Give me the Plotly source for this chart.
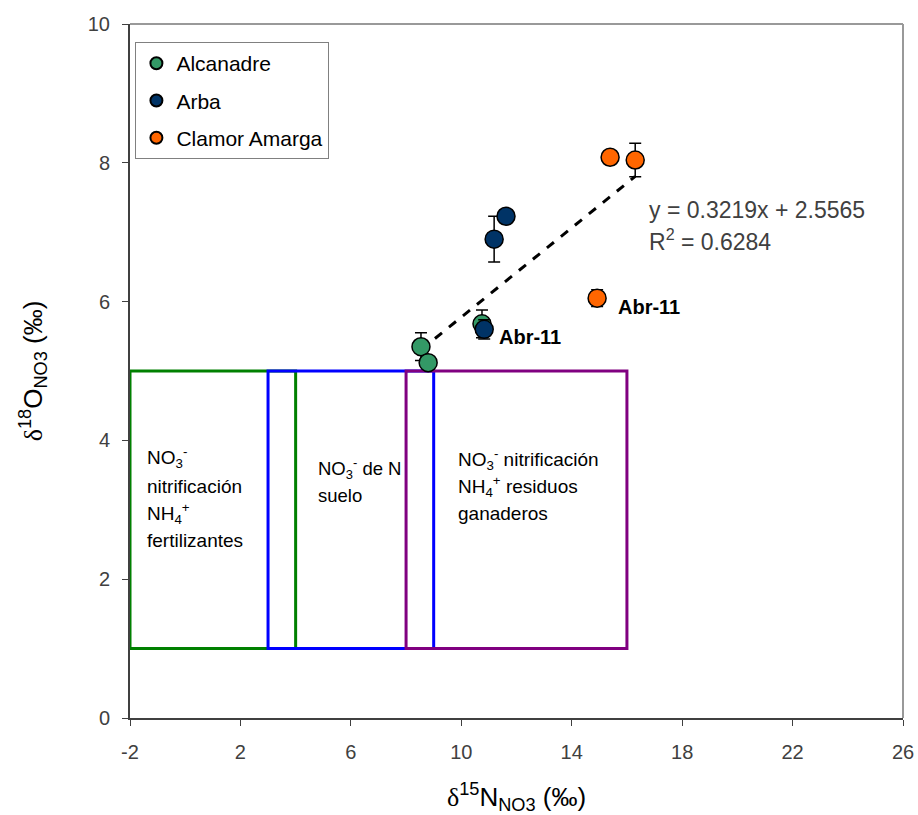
import plotly.graph_objects as go

# ---- data ----
alc_x = [8.54, 8.80, 10.75]
alc_y = [5.35, 5.12, 5.68]
alc_err = [0.20, 0.0, 0.20]

arba_x = [10.83, 11.19, 11.62]
arba_y = [5.60, 6.90, 7.23]
arba_err = [0.14, 0.33, 0.05]

clam_x = [14.92, 15.39, 16.30]
clam_y = [6.05, 8.08, 8.04]
clam_err = [0.12, 0.0, 0.24]

trend_slope = 0.3219
trend_intercept = 2.5565
trend_r2 = 0.6284

# source boxes: (x0, x1, y0, y1)
box_green = (-2, 4, 1, 5)
box_blue = (3, 9, 1, 5)
box_purple = (8, 16, 1, 5)

x_ticks = [-2, 2, 6, 10, 14, 18, 22, 26]
x_ticktext = ["-2", "2", "6", "10", "14", "18", "22", "26"]
y_ticks = [0, 2, 4, 6, 8, 10]

FONT = "Liberation Sans, Arial, sans-serif"
GRAY = "#404040"

fig = go.Figure()

def series(name, xs, ys, errs, color):
    fig.add_trace(go.Scatter(
        x=xs, y=ys, mode="markers", name=name, legendgroup=name,
        marker=dict(size=18, color=color, line=dict(color="black", width=1.5)),
        error_y=dict(type="data", array=errs, color="black", thickness=1.5, width=6, visible=True),
    ))

# trendline
all_x = alc_x + arba_x + clam_x
tx = [min(all_x), max(all_x)]
ty = [trend_slope * v + trend_intercept for v in tx]
fig.add_trace(go.Scatter(x=tx, y=ty, mode="lines", showlegend=False,
                         line=dict(color="black", width=3, dash="dash")))

series("Alcanadre", alc_x, alc_y, alc_err, "#339966")
series("Arba", arba_x, arba_y, arba_err, "#003366")
series("Clamor Amarga", clam_x, clam_y, clam_err, "#FF6600")

for (x0, x1, y0, y1), col in [(box_green, "#008000"), (box_blue, "#0000FF"), (box_purple, "#800080")]:
    fig.add_shape(type="rect", xref="x", yref="y", x0=x0, x1=x1, y0=y0, y1=y1,
                  line=dict(color=col, width=3), fillcolor="rgba(0,0,0,0)", layer="below")

ann = []
def txt(x, y, s, size=19, color="black", bold=False):
    if bold:
        s = "<b>" + s + "</b>"
    ann.append(dict(x=x, y=y, xref="x", yref="y", text=s, showarrow=False,
                    xanchor="left", yanchor="middle",
                    font=dict(family=FONT, size=size, color=color)))

# box labels
txt(-1.45, 3.75, "NO<sub>3</sub><sup>-</sup>")
txt(-1.45, 3.34, "nitrificación")
txt(-1.45, 2.95, "NH<sub>4</sub><sup>+</sup>")
txt(-1.45, 2.56, "fertilizantes")

txt(4.72, 3.60, "NO<sub>3</sub><sup>-</sup> de N", size=18.5)
txt(4.72, 3.21, "suelo", size=18.5)

txt(9.8, 3.73, "NO<sub>3</sub><sup>-</sup> nitrificación")
txt(9.8, 3.34, "NH<sub>4</sub><sup>+</sup> residuos")
txt(9.8, 2.95, "ganaderos")

# equation
txt(16.72, 7.32, "y = %.4fx + %.4f" % (trend_slope, trend_intercept), size=23, color=GRAY)
txt(16.72, 6.89, "R<sup>2</sup> = %.4f" % trend_r2, size=23, color=GRAY)

# labels
txt(11.3, 5.49, "Abr-11", size=20, bold=True)
txt(15.62, 5.92, "Abr-11", size=20, bold=True)

DELTA = "<span style='font-family:Liberation Serif, Times New Roman, serif'>δ</span>"

fig.update_layout(
    width=918, height=815,
    margin=dict(l=130, r=15, t=24, b=97),
    paper_bgcolor="white", plot_bgcolor="white",
    font=dict(family=FONT, color=GRAY),
    annotations=ann,
    showlegend=True,
    legend=dict(x=0.007, y=0.974, xanchor="left", yanchor="top",
                bgcolor="white", bordercolor="#808080", borderwidth=1,
                font=dict(family=FONT, size=21, color="black"),
                itemsizing="constant", tracegroupgap=7),
    xaxis=dict(range=[-2, 26], tickvals=x_ticks, ticktext=x_ticktext, ticks="outside", ticklen=6,
               tickcolor=GRAY, showgrid=False, zeroline=False, showline=True,
               linecolor=GRAY, linewidth=2, tickfont=dict(size=20, color=GRAY),
               automargin=False, ticklabelstandoff=9,
               title=dict(text=DELTA + "<sup>15</sup>N<sub>NO3</sub> (‰)",
                          font=dict(size=26, color="black"), standoff=26)),
    yaxis=dict(range=[0, 10], tickvals=y_ticks, ticks="outside", ticklen=6,
               tickcolor=GRAY, showgrid=False, zeroline=False, showline=True,
               linecolor=GRAY, linewidth=2, tickfont=dict(size=20, color=GRAY),
               automargin=False, ticklabelstandoff=8,
               title=dict(text=DELTA + "<sup>18</sup>O<sub>NO3</sub> (‰)",
                          font=dict(size=26, color="black"), standoff=38)),
)

# gray frame on top and right (plot area border)
fig.add_shape(type="line", xref="paper", yref="paper", x0=0, x1=1, y0=1, y1=1,
              line=dict(color="#999999", width=2))
fig.add_shape(type="line", xref="paper", yref="paper", x0=1, x1=1, y0=0, y1=1,
              line=dict(color="#999999", width=2))

fig.write_html("out.html", config={"displayModeBar": False},
               post_script="document.body.style.margin='0';")
